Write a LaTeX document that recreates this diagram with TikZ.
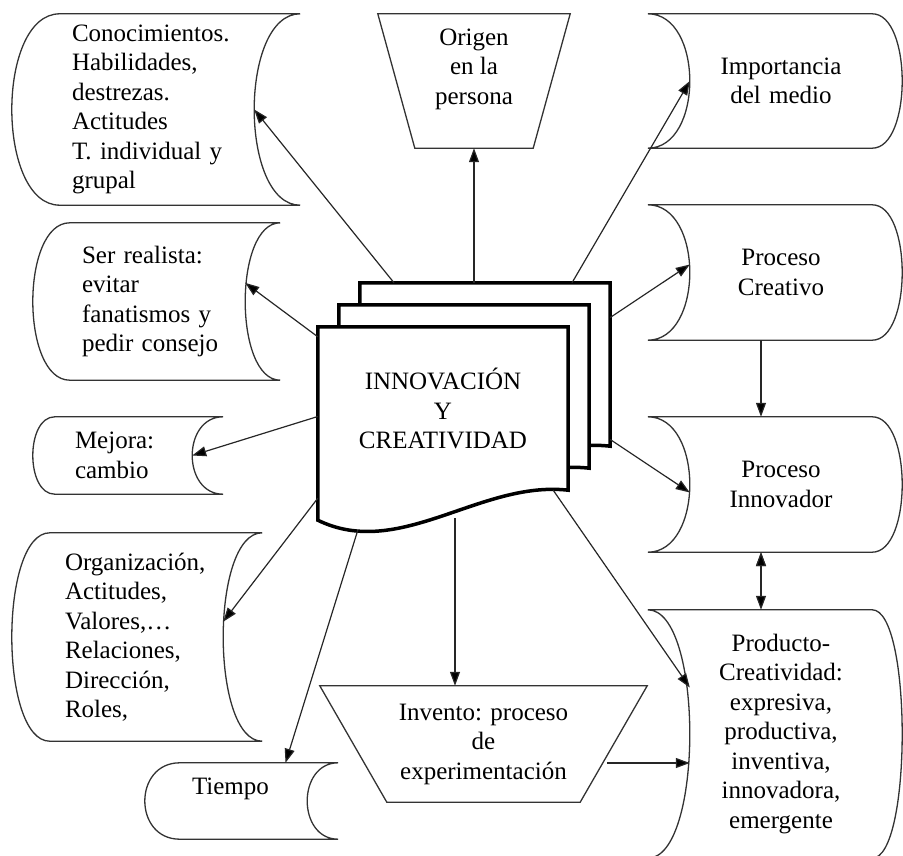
\documentclass[tikz,border=0pt]{standalone}
\usepackage{fontspec}
\setmainfont{Liberation Serif}
\usetikzlibrary{arrows.meta}
\pgfdeclarelayer{background}
\pgfsetlayers{background,main}

\newcommand{\boxfont}{\fontsize{25}{29.5}\selectfont}

% stored data, round side left, hollow side right
\newcommand{\storeLeft}[3]{%
  \draw[boxLine] (#1.north west) -- ([xshift=#3pt]#1.north east)
    .. controls ([xshift=-#3pt/3]#1.north east) and ([xshift=-#3pt/3]#1.south east) .. ([xshift=#3pt]#1.south east)
    -- (#1.south west)
    .. controls ([xshift=-4*#2pt/3]#1.south west) and ([xshift=-4*#2pt/3]#1.north west) .. (#1.north west) -- cycle;}
% stored data, hollow side left, round side right
\newcommand{\storeRight}[3]{%
  \draw[boxLine] ([xshift=-#2pt]#1.north west) -- (#1.north east)
    .. controls ([xshift=4*#3pt/3]#1.north east) and ([xshift=4*#3pt/3]#1.south east) .. (#1.south east)
    -- ([xshift=-#2pt]#1.south west)
    .. controls ([xshift=#2pt/3]#1.south west) and ([xshift=#2pt/3]#1.north west) .. ([xshift=-#2pt]#1.north west) -- cycle;}
% manual operation
\newcommand{\manualOp}[2]{%
  \draw[boxLine] (#1.north west) -- (#1.north east) -- ([xshift=-#2pt]#1.south east) -- ([xshift=#2pt]#1.south west) -- cycle;}
% document page with wavy bottom
\newcommand{\docPage}[1]{%
  \draw[docLine] (#1.south east) -- (#1.north east) -- (#1.north west) -- ([yshift=-30pt]#1.south west)
    .. controls ([xshift=82pt,yshift=-70pt]#1.south west) and ([xshift=-88pt,yshift=10pt]#1.south east) .. (#1.south east) -- cycle;}

\begin{document}
\begin{tikzpicture}[x=1pt, y=-1pt, >={Triangle[length=14pt,width=10pt]},
rectLeft/.style={rectangle, font=\boxfont, align=left, inner xsep=12pt, inner ysep=0pt},
rectRight/.style={rectangle, font=\boxfont, align=center, inner xsep=5pt, inner ysep=0pt, text width=172pt},
rectTrap/.style={rectangle, font=\boxfont, align=center, inner sep=0pt},
rectDoc/.style={rectangle, font=\boxfont, align=center, minimum width=250pt, minimum height=163pt},
boxLine/.style={draw=black!80, line width=1.3pt},
docLine/.style={draw=black, fill=white, line width=3.5pt},
arrowLine/.style={draw=black!85, line width=1.2pt}]

\useasboundingbox (0,0) rectangle (903,856);

\node[rectLeft, text width=170pt, minimum height=191pt] (conoc) at (157,109.5) {Conocimientos.\\Habilidades,\\destrezas.\\Actitudes\\T. individual y\\grupal};
\node[rectLeft, text width=151pt, minimum height=157pt] (realista) at (157.5,301.5) {Ser realista:\\evitar\\fanatismos y\\pedir consejo};
\node[rectLeft, inner xsep=20pt, text width=97pt, minimum height=77pt] (mejora) at (123.5,455.5) {Mejora:\\cambio};
\node[rectLeft, inner xsep=15pt, text width=143pt, minimum height=208pt] (organiz) at (136.5,637) {Organización,\\Actitudes,\\Valores,…\\Relaciones,\\Dirección,\\Roles,};
\node[rectLeft, text width=103pt, minimum height=76pt] (tiempo) at (243.5,801) {Tiempo\\\mbox{}};

\node[rectRight, minimum height=134pt] (medio) at (781,81) {Importancia\\del medio};
\node[rectRight, minimum height=135pt] (creativo) at (781,272.5) {Proceso\\Creativo};
\node[rectRight, minimum height=135pt] (innovador) at (781,484.5) {Proceso\\Innovador};
\node[rectRight, minimum height=248pt] (producto) at (781,734) {Producto-\\Creatividad:\\expresiva,\\productiva,\\inventiva,\\innovadora,\\emergente};

\node[rectTrap, minimum width=192pt, minimum height=134pt] (origen) at (474,81) {Origen\\en la\\persona\\\mbox{}};
\node[rectTrap, minimum width=327pt, minimum height=116pt] (invento) at (483.5,744) {Invento: proceso\\de\\experimentación};

\node[rectDoc] (doc3) at (485,364.5) {};
\node[rectDoc] (doc2) at (464,386.5) {};
\node[rectDoc] (doc1) at (443,408.5) {INNOVACIÓN\\Y\\CREATIVIDAD};

\storeLeft{conoc}{48}{46}
\storeLeft{realista}{37}{35}
\storeLeft{mejora}{22}{31}
\storeLeft{organiz}{38}{39}
\storeLeft{tiempo}{35}{31}
\storeRight{medio}{42}{30}
\storeRight{creativo}{42}{30}
\storeRight{innovador}{42}{30}
\storeRight{producto}{42}{30}
\manualOp{origen}{37}
\manualOp{invento}{67}

\begin{pgfonlayer}{background}
\docPage{doc3}
\docPage{doc2}
\docPage{doc1}
\end{pgfonlayer}

\path[->, arrowLine]
	([xshift=-91pt]doc3.north) 				edge 		(conoc.east)
	(doc3.north -| origen.south) 			edge 		(origen.south)
	([xshift=87pt]doc3.north) 				edge 		(medio.west)
	([yshift=47pt]doc3.east) 				edge 		(creativo.175)
	([yshift=-75pt]doc3.east) 				edge 		(innovador.185)
	([yshift=-10pt]doc1.north west) 		edge 		(realista.12)
	([yshift=-8pt]doc1.west) 				edge 		(mejora.east)
	([yshift=-8pt]doc1.south west) 			edge 		(organiz.10)
	([xshift=40pt,yshift=-40pt]doc1.south west) edge 	([xshift=42pt]tiempo.north)
	([xshift=12pt,yshift=-28pt]doc1.south) 	edge 		([xshift=-28.5pt]invento.north)
	([xshift=-15pt]doc1.south east) 		edge 		(producto.153)
	([xshift=-40pt,yshift=-19pt]invento.east) edge 		([yshift=-29pt]producto.west)
	([xshift=-20pt]creativo.south) 			edge 		([xshift=-20pt]innovador.north)
	([xshift=-20pt]innovador.south) 		edge [<->] 	([xshift=-20pt]producto.north);

\end{tikzpicture}
\end{document}
